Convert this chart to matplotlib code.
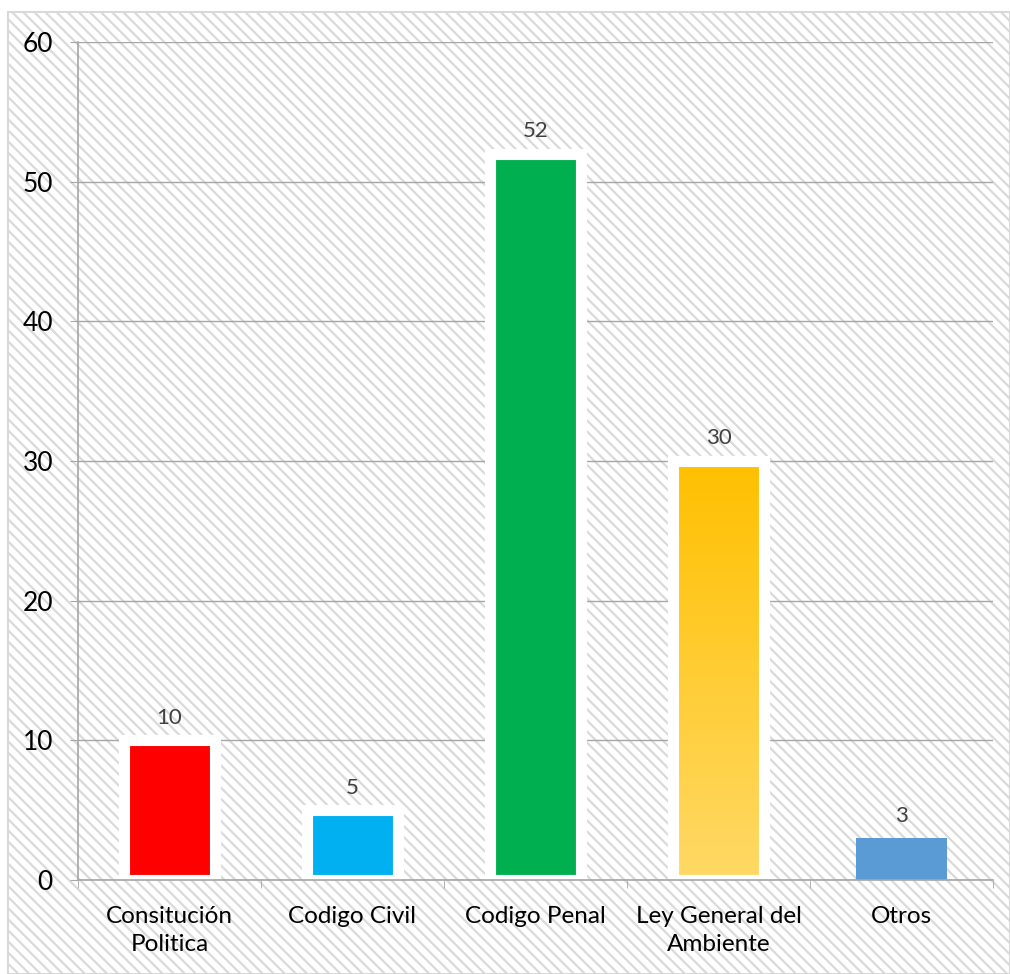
import numpy as np
import matplotlib.pyplot as plt
from matplotlib.patches import Rectangle
from matplotlib.colors import LinearSegmentedColormap

categories = ['Consitución\nPolitica', 'Codigo Civil', 'Codigo Penal', 'Ley General del\nAmbiente', 'Otros']
values = [10, 5, 52, 30, 3]
colors = ['#FF0000', '#00B0F0', '#00B050', '#FFC000', '#5B9BD5']
white_edge = [True, True, True, True, False]

plt.rcParams['font.family'] = ['Lato', 'DejaVu Sans']
plt.rcParams['hatch.color'] = '#DADADA'
plt.rcParams['hatch.linewidth'] = 1.6

fig = plt.figure(figsize=(10.1, 9.74), dpi=100)

# hatched chart background with thin border
bg = Rectangle((8 / 1010, 0), 1 - 8 / 1010, 1 - 12 / 974, transform=fig.transFigure,
               facecolor='white', edgecolor='#DADADA', hatch='\\\\\\', lw=0, zorder=-2)
fig.patches.append(bg)
frame = Rectangle((8 / 1010, 0), 1 - 8 / 1010, 1 - 12 / 974, transform=fig.transFigure,
                  facecolor='none', edgecolor='#D9D9D9', lw=1.5, zorder=-1)
fig.patches.append(frame)

ax = fig.add_axes([78 / 1010, 1 - 880 / 974, 915 / 1010, 838 / 974])
ax.set_facecolor('none')

x = np.arange(len(categories))
bars = ax.bar(x, values, width=0.5, color=colors, zorder=3)
for b, w in zip(bars, white_edge):
    if w:
        b.set_edgecolor('white')
        b.set_linewidth(8)

# gradient for the gold bar
gold = bars[3]
cmap = LinearSegmentedColormap.from_list('gold', ['#FFD966', '#FFC000'])
x0, y0 = gold.get_x(), gold.get_y()
grad = np.linspace(0, 1, 256).reshape(-1, 1)
im = ax.imshow(grad, cmap=cmap, origin='lower', aspect='auto',
               extent=[x0, x0 + gold.get_width(), y0, y0 + gold.get_height()], zorder=3.5)
im.set_clip_path(gold)
gold_edge = Rectangle((x0, y0), gold.get_width(), gold.get_height(), facecolor='none',
                      edgecolor='white', lw=8, zorder=3.6)
ax.add_patch(gold_edge)

for xi, v in zip(x, values):
    ax.annotate(str(v), (xi, v), xytext=(0, 9), textcoords='offset points',
                ha='center', va='bottom', fontsize=16, color='#404040')

ax.set_xlim(-0.5, len(categories) - 0.5)
ax.set_ylim(0, 60)
ax.set_yticks(range(0, 61, 10))
ax.tick_params(axis='y', labelsize=19, length=6, color='#A6A6A6', pad=12, labelcolor='black')

ax.set_xticks(x)
ax.set_xticklabels(categories, fontsize=17.5, va='top', linespacing=1.4)
ax.set_xticks(np.arange(-0.5, len(categories), 1), minor=True)
ax.tick_params(axis='x', which='major', length=0, pad=19)
ax.tick_params(axis='x', which='minor', length=6, color='#A6A6A6')

ax.grid(axis='y', color='#A6A6A6', lw=1, zorder=1)
ax.set_axisbelow(True)
for s in ['top', 'right']:
    ax.spines[s].set_visible(False)
for s in ['left', 'bottom']:
    ax.spines[s].set_color('#A6A6A6')
    ax.spines[s].set_linewidth(1.2)
    ax.spines[s].set_zorder(4)

fig.savefig('out.png', dpi=100)
